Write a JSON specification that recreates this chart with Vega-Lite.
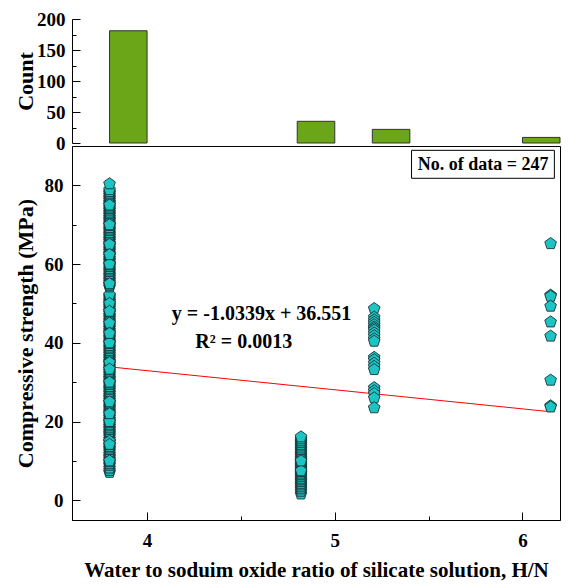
{
  "$schema": "https://vega.github.io/schema/vega-lite/v6.json",
  "background": "white",
  "padding": {"left": 13, "top": 10, "right": 5, "bottom": 2},
  "spacing": 3,
  "bounds": "flush",
  "config": {
    "font": "Liberation Serif",
    "view": {"stroke": null},
    "axis": {
      "grid": false,
      "domain": true,
      "ticks": true,
      "labelFont": "Liberation Serif",
      "labelFontWeight": "bold",
      "labelFontSize": 19,
      "labelColor": "black",
      "titleFont": "Liberation Serif",
      "titleFontWeight": "bold",
      "titleFontSize": 22,
      "titleColor": "black",
      "domainColor": "black",
      "domainWidth": 1,
      "tickColor": "black",
      "tickWidth": 1
    }
  },
  "datasets": {
    "hist": [
      {"bin_start": 3.8, "bin_end": 4.0, "count": 181},
      {"bin_start": 4.8, "bin_end": 5.0, "count": 35},
      {"bin_start": 5.2, "bin_end": 5.4, "count": 22},
      {"bin_start": 6.0, "bin_end": 6.2, "count": 9}
    ],
    "pts": [
      {"hn": 3.8, "cs": 7.1}, {"hn": 3.8, "cs": 7.6}, {"hn": 3.8, "cs": 8.2}, {"hn": 3.8, "cs": 8.9}, {"hn": 3.8, "cs": 9.3},
      {"hn": 3.8, "cs": 9.8}, {"hn": 3.8, "cs": 10.4}, {"hn": 3.8, "cs": 10.9}, {"hn": 3.8, "cs": 11.3}, {"hn": 3.8, "cs": 11.8},
      {"hn": 3.8, "cs": 12.4}, {"hn": 3.8, "cs": 12.9}, {"hn": 3.8, "cs": 13.3}, {"hn": 3.8, "cs": 13.7}, {"hn": 3.8, "cs": 14.2},
      {"hn": 3.8, "cs": 14.8}, {"hn": 3.8, "cs": 15.1}, {"hn": 3.8, "cs": 15.6}, {"hn": 3.8, "cs": 16.2}, {"hn": 3.8, "cs": 16.7},
      {"hn": 3.8, "cs": 17.1}, {"hn": 3.8, "cs": 17.5}, {"hn": 3.8, "cs": 18.0}, {"hn": 3.8, "cs": 18.4}, {"hn": 3.8, "cs": 18.9},
      {"hn": 3.8, "cs": 19.3}, {"hn": 3.8, "cs": 19.8}, {"hn": 3.8, "cs": 20.2}, {"hn": 3.8, "cs": 20.6}, {"hn": 3.8, "cs": 21.1},
      {"hn": 3.8, "cs": 21.5}, {"hn": 3.8, "cs": 22.0}, {"hn": 3.8, "cs": 22.4}, {"hn": 3.8, "cs": 22.8}, {"hn": 3.8, "cs": 23.3},
      {"hn": 3.8, "cs": 23.7}, {"hn": 3.8, "cs": 24.1}, {"hn": 3.8, "cs": 24.6}, {"hn": 3.8, "cs": 25.0}, {"hn": 3.8, "cs": 25.4},
      {"hn": 3.8, "cs": 25.9}, {"hn": 3.8, "cs": 26.3}, {"hn": 3.8, "cs": 26.7}, {"hn": 3.8, "cs": 27.2}, {"hn": 3.8, "cs": 27.6},
      {"hn": 3.8, "cs": 28.1}, {"hn": 3.8, "cs": 28.5}, {"hn": 3.8, "cs": 28.9}, {"hn": 3.8, "cs": 29.4}, {"hn": 3.8, "cs": 29.8},
      {"hn": 3.8, "cs": 30.2}, {"hn": 3.8, "cs": 30.7}, {"hn": 3.8, "cs": 31.1}, {"hn": 3.8, "cs": 31.5}, {"hn": 3.8, "cs": 32.0},
      {"hn": 3.8, "cs": 32.4}, {"hn": 3.8, "cs": 32.8}, {"hn": 3.8, "cs": 33.3}, {"hn": 3.8, "cs": 33.7}, {"hn": 3.8, "cs": 34.1},
      {"hn": 3.8, "cs": 34.6}, {"hn": 3.8, "cs": 35.0}, {"hn": 3.8, "cs": 35.4}, {"hn": 3.8, "cs": 35.9}, {"hn": 3.8, "cs": 36.3},
      {"hn": 3.8, "cs": 36.7}, {"hn": 3.8, "cs": 37.2}, {"hn": 3.8, "cs": 37.6}, {"hn": 3.8, "cs": 38.0}, {"hn": 3.8, "cs": 38.5},
      {"hn": 3.8, "cs": 38.9}, {"hn": 3.8, "cs": 39.3}, {"hn": 3.8, "cs": 39.8}, {"hn": 3.8, "cs": 40.2}, {"hn": 3.8, "cs": 40.6},
      {"hn": 3.8, "cs": 41.1}, {"hn": 3.8, "cs": 41.5}, {"hn": 3.8, "cs": 41.9}, {"hn": 3.8, "cs": 42.4}, {"hn": 3.8, "cs": 42.8},
      {"hn": 3.8, "cs": 43.2}, {"hn": 3.8, "cs": 43.7}, {"hn": 3.8, "cs": 44.1}, {"hn": 3.8, "cs": 44.5}, {"hn": 3.8, "cs": 45.0},
      {"hn": 3.8, "cs": 45.4}, {"hn": 3.8, "cs": 45.8}, {"hn": 3.8, "cs": 46.3}, {"hn": 3.8, "cs": 46.7}, {"hn": 3.8, "cs": 47.1},
      {"hn": 3.8, "cs": 47.6}, {"hn": 3.8, "cs": 48.0}, {"hn": 3.8, "cs": 48.4}, {"hn": 3.8, "cs": 48.9}, {"hn": 3.8, "cs": 49.3},
      {"hn": 3.8, "cs": 49.7}, {"hn": 3.8, "cs": 50.2}, {"hn": 3.8, "cs": 50.6}, {"hn": 3.8, "cs": 51.0}, {"hn": 3.8, "cs": 51.5},
      {"hn": 3.8, "cs": 51.9}, {"hn": 3.8, "cs": 52.2}, {"hn": 3.8, "cs": 54.2}, {"hn": 3.8, "cs": 54.6}, {"hn": 3.8, "cs": 55.0},
      {"hn": 3.8, "cs": 55.5}, {"hn": 3.8, "cs": 55.9}, {"hn": 3.8, "cs": 56.3}, {"hn": 3.8, "cs": 56.8}, {"hn": 3.8, "cs": 57.2},
      {"hn": 3.8, "cs": 57.6}, {"hn": 3.8, "cs": 58.1}, {"hn": 3.8, "cs": 58.5}, {"hn": 3.8, "cs": 58.9}, {"hn": 3.8, "cs": 59.4},
      {"hn": 3.8, "cs": 59.8}, {"hn": 3.8, "cs": 60.2}, {"hn": 3.8, "cs": 60.7}, {"hn": 3.8, "cs": 61.1}, {"hn": 3.8, "cs": 61.5},
      {"hn": 3.8, "cs": 62.0}, {"hn": 3.8, "cs": 62.4}, {"hn": 3.8, "cs": 62.8}, {"hn": 3.8, "cs": 63.3}, {"hn": 3.8, "cs": 63.7},
      {"hn": 3.8, "cs": 64.1}, {"hn": 3.8, "cs": 64.6}, {"hn": 3.8, "cs": 65.0}, {"hn": 3.8, "cs": 65.4}, {"hn": 3.8, "cs": 65.9},
      {"hn": 3.8, "cs": 66.3}, {"hn": 3.8, "cs": 66.7}, {"hn": 3.8, "cs": 67.2}, {"hn": 3.8, "cs": 67.6}, {"hn": 3.8, "cs": 68.0},
      {"hn": 3.8, "cs": 68.5}, {"hn": 3.8, "cs": 68.9}, {"hn": 3.8, "cs": 69.3}, {"hn": 3.8, "cs": 69.8}, {"hn": 3.8, "cs": 70.2},
      {"hn": 3.8, "cs": 70.6}, {"hn": 3.8, "cs": 71.1}, {"hn": 3.8, "cs": 71.5}, {"hn": 3.8, "cs": 71.9}, {"hn": 3.8, "cs": 72.4},
      {"hn": 3.8, "cs": 72.8}, {"hn": 3.8, "cs": 73.2}, {"hn": 3.8, "cs": 73.7}, {"hn": 3.8, "cs": 74.1}, {"hn": 3.8, "cs": 74.5},
      {"hn": 3.8, "cs": 75.0}, {"hn": 3.8, "cs": 75.4}, {"hn": 3.8, "cs": 75.8}, {"hn": 3.8, "cs": 76.3}, {"hn": 3.8, "cs": 76.7},
      {"hn": 3.8, "cs": 77.1}, {"hn": 3.8, "cs": 77.6}, {"hn": 3.8, "cs": 78.0}, {"hn": 3.8, "cs": 78.4}, {"hn": 3.8, "cs": 78.9},
      {"hn": 3.8, "cs": 10.0}, {"hn": 3.8, "cs": 15.0}, {"hn": 3.8, "cs": 20.0}, {"hn": 3.8, "cs": 25.0}, {"hn": 3.8, "cs": 30.0},
      {"hn": 3.8, "cs": 35.0}, {"hn": 3.8, "cs": 40.0}, {"hn": 3.8, "cs": 45.0}, {"hn": 3.8, "cs": 50.0}, {"hn": 3.8, "cs": 55.0},
      {"hn": 3.8, "cs": 60.0}, {"hn": 3.8, "cs": 65.0}, {"hn": 3.8, "cs": 70.0}, {"hn": 3.8, "cs": 75.0}, {"hn": 3.8, "cs": 80.4},
      {"hn": 3.8, "cs": 14.2}, {"hn": 3.8, "cs": 22.0}, {"hn": 3.8, "cs": 33.3}, {"hn": 3.8, "cs": 42.4}, {"hn": 3.8, "cs": 48.0},
      {"hn": 3.8, "cs": 62.4},
      {"hn": 4.82, "cs": 1.6}, {"hn": 4.82, "cs": 2.3}, {"hn": 4.82, "cs": 2.9}, {"hn": 4.82, "cs": 3.4}, {"hn": 4.82, "cs": 3.9},
      {"hn": 4.82, "cs": 4.3}, {"hn": 4.82, "cs": 4.8}, {"hn": 4.82, "cs": 5.2}, {"hn": 4.82, "cs": 5.6}, {"hn": 4.82, "cs": 6.1},
      {"hn": 4.82, "cs": 6.5}, {"hn": 4.82, "cs": 6.9}, {"hn": 4.82, "cs": 7.3}, {"hn": 4.82, "cs": 7.8}, {"hn": 4.82, "cs": 8.2},
      {"hn": 4.82, "cs": 8.6}, {"hn": 4.82, "cs": 9.0}, {"hn": 4.82, "cs": 9.4}, {"hn": 4.82, "cs": 9.9}, {"hn": 4.82, "cs": 10.3},
      {"hn": 4.82, "cs": 10.7}, {"hn": 4.82, "cs": 11.2}, {"hn": 4.82, "cs": 11.6}, {"hn": 4.82, "cs": 12.0}, {"hn": 4.82, "cs": 12.5},
      {"hn": 4.82, "cs": 12.9}, {"hn": 4.82, "cs": 13.3}, {"hn": 4.82, "cs": 13.8}, {"hn": 4.82, "cs": 14.2}, {"hn": 4.82, "cs": 14.7},
      {"hn": 4.82, "cs": 15.1}, {"hn": 4.82, "cs": 15.6}, {"hn": 4.82, "cs": 16.1}, {"hn": 4.82, "cs": 7.5}, {"hn": 4.82, "cs": 10.0},
      {"hn": 5.21, "cs": 48.7}, {"hn": 5.21, "cs": 46.5}, {"hn": 5.21, "cs": 45.8}, {"hn": 5.21, "cs": 45.2}, {"hn": 5.21, "cs": 44.6},
      {"hn": 5.21, "cs": 44.0}, {"hn": 5.21, "cs": 43.6}, {"hn": 5.21, "cs": 43.2}, {"hn": 5.21, "cs": 42.5}, {"hn": 5.21, "cs": 41.8},
      {"hn": 5.21, "cs": 41.0}, {"hn": 5.21, "cs": 40.4}, {"hn": 5.21, "cs": 36.3}, {"hn": 5.21, "cs": 35.7}, {"hn": 5.21, "cs": 34.8},
      {"hn": 5.21, "cs": 34.0}, {"hn": 5.21, "cs": 33.2}, {"hn": 5.21, "cs": 28.6}, {"hn": 5.21, "cs": 27.8}, {"hn": 5.21, "cs": 27.1},
      {"hn": 5.21, "cs": 26.0}, {"hn": 5.21, "cs": 23.5},
      {"hn": 6.15, "cs": 65.2}, {"hn": 6.15, "cs": 52.1}, {"hn": 6.15, "cs": 51.8}, {"hn": 6.15, "cs": 49.3}, {"hn": 6.15, "cs": 45.3},
      {"hn": 6.15, "cs": 41.7}, {"hn": 6.15, "cs": 30.5}, {"hn": 6.15, "cs": 24.0}, {"hn": 6.15, "cs": 23.7}
    ],
    "fit": [
      {"hn": 3.8, "cs": 33.9},
      {"hn": 6.15, "cs": 22.5}
    ],
    "one": [{}]
  },
  "vconcat": [
    {
      "width": 488,
      "height": 124,
      "data": {"name": "hist"},
      "mark": {"type": "bar", "fill": "#6AA617", "stroke": "#333333", "strokeWidth": 1},
      "encoding": {
        "x": {"field": "bin_start", "type": "quantitative", "scale": {"domain": [3.6, 6.2], "nice": false, "zero": false}, "axis": null},
        "x2": {"field": "bin_end"},
        "y": {
          "field": "count", "type": "quantitative",
          "scale": {"domain": [0, 200], "nice": false},
          "axis": {
            "title": "Count",
            "values": [0, 25, 50, 75, 100, 125, 150, 175, 200],
            "labelExpr": "datum.value % 50 == 0 ? datum.value : ''",
            "tickSize": {"condition": {"test": "datum.value % 50 == 0", "value": -8}, "value": -4},
            "labelPadding": 15,
            "titleX": -35
          }
        },
        "y2": {"datum": 0}
      }
    },
    {
      "width": 488,
      "height": 374,
      "view": {"stroke": "black", "strokeWidth": 1},
      "layer": [
        {
          "data": {"name": "fit"},
          "mark": {"type": "line", "color": "#FF0000", "strokeWidth": 1},
          "encoding": {
            "x": {"field": "hn", "type": "quantitative"},
            "y": {"field": "cs", "type": "quantitative"}
          }
        },
        {
          "data": {"name": "pts"},
          "mark": {"type": "point", "shape": "M0,-1L0.951,-0.309L0.588,0.809L-0.588,0.809L-0.951,-0.309Z", "filled": true, "fill": "#1DC4C4", "stroke": "#1A3333", "strokeWidth": 0.9, "opacity": 1, "size": 150},
          "encoding": {
            "x": {
              "field": "hn", "type": "quantitative",
              "scale": {"domain": [3.6, 6.2], "nice": false, "zero": false},
              "axis": {
                "title": "Water to soduim oxide ratio of silicate solution, H/N",
                "titleFontSize": 21,
                "values": [4, 4.5, 5, 5.5, 6],
                "labelExpr": "datum.value % 1 == 0 ? datum.value : ''",
                "tickSize": {"condition": {"test": "datum.value % 1 == 0", "value": -8}, "value": -4},
                "labelPadding": 19,
                "titlePadding": 9
              }
            },
            "y": {
              "field": "cs", "type": "quantitative",
              "scale": {"domain": [-5, 90], "nice": false, "zero": false},
              "axis": {
                "title": "Compressive strength (MPa)",
                "values": [0, 10, 20, 30, 40, 50, 60, 70, 80],
                "labelExpr": "datum.value % 20 == 0 ? datum.value : ''",
                "tickSize": {"condition": {"test": "datum.value % 20 == 0", "value": -8}, "value": -4},
                "labelPadding": 17,
                "titleX": -35
              }
            }
          }
        },
        {
          "data": {"name": "one"},
          "mark": {"type": "text", "font": "Liberation Serif", "fontWeight": "bold", "fontSize": 20, "color": "black", "align": "center", "baseline": "middle"},
          "encoding": {
            "x": {"datum": 4.61},
            "y": {"datum": 47.3},
            "text": {"value": "y = -1.0339x + 36.551"}
          }
        },
        {
          "data": {"name": "one"},
          "mark": {"type": "text", "font": "Liberation Serif", "fontWeight": "bold", "fontSize": 20, "color": "black", "align": "center", "baseline": "middle"},
          "encoding": {
            "x": {"datum": 4.515},
            "y": {"datum": 40.2},
            "text": {"value": "R² = 0.0013"}
          }
        },
        {
          "data": {"name": "one"},
          "mark": {"type": "rect", "fill": "white", "stroke": "black", "strokeWidth": 1},
          "encoding": {
            "x": {"datum": 5.409},
            "x2": {"datum": 6.17},
            "y": {"datum": 88.9},
            "y2": {"datum": 81.8}
          }
        },
        {
          "data": {"name": "one"},
          "mark": {"type": "text", "font": "Liberation Serif", "fontWeight": "bold", "fontSize": 18, "color": "black", "align": "center", "baseline": "middle"},
          "encoding": {
            "x": {"datum": 5.79},
            "y": {"datum": 85.3},
            "text": {"value": "No. of data = 247"}
          }
        }
      ]
    }
  ]
}
